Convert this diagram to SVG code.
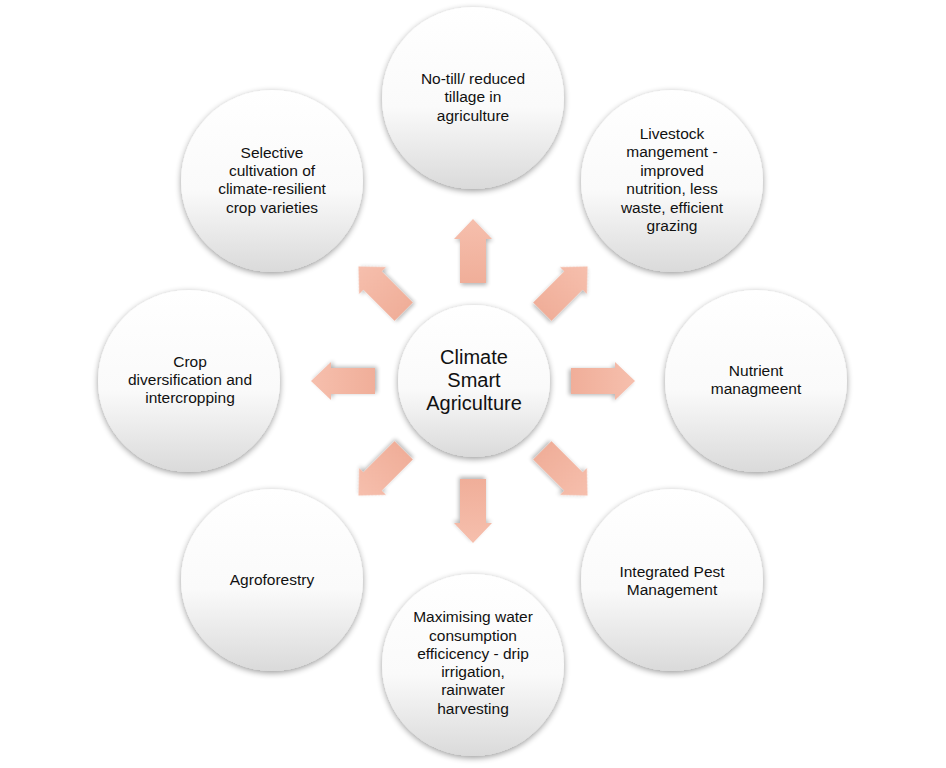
<svg xmlns="http://www.w3.org/2000/svg" width="946" height="768" viewBox="0 0 946 768">
<defs>
<linearGradient id="cg" x1="0" y1="0" x2="0" y2="1">
<stop offset="0" stop-color="#ffffff"/>
<stop offset="0.55" stop-color="#fafafa"/>
<stop offset="1" stop-color="#dadada"/>
</linearGradient>
<linearGradient id="ag" x1="0" y1="0" x2="0" y2="1">
<stop offset="0" stop-color="#f6bfad"/>
<stop offset="1" stop-color="#f0ae99"/>
</linearGradient>
<filter id="cs" x="-20%" y="-20%" width="140%" height="140%">
<feGaussianBlur in="SourceAlpha" stdDeviation="3"/>
<feOffset dx="0" dy="2" result="b"/>
<feComponentTransfer><feFuncA type="linear" slope="0.4"/></feComponentTransfer>
<feMerge><feMergeNode/><feMergeNode in="SourceGraphic"/></feMerge>
</filter>
<filter id="as" x="-40%" y="-40%" width="180%" height="180%">
<feGaussianBlur in="SourceAlpha" stdDeviation="2"/>
<feOffset dx="1" dy="2" result="b"/>
<feComponentTransfer><feFuncA type="linear" slope="0.3"/></feComponentTransfer>
<feMerge><feMergeNode/><feMergeNode in="SourceGraphic"/></feMerge>
</filter>
<polygon id="arr" points="-13,-98 -13,-142 -19,-142 0,-162 19,-142 13,-142 13,-98"/>
</defs>
<style>
.c{fill:url(#cg);filter:url(#cs);}
.t{font-family:"Liberation Sans",Arial,sans-serif;font-size:15.5px;fill:#111111;text-anchor:middle;}
.tc{font-family:"Liberation Sans",Arial,sans-serif;font-size:20px;fill:#111111;text-anchor:middle;}
.a{fill:url(#ag);filter:url(#as);}
</style>
<rect width="946" height="768" fill="#ffffff"/>
<g id="connectors" transform="translate(473,381)">
<use href="#arr" class="a" transform="rotate(0)"/>
<use href="#arr" class="a" transform="rotate(45)"/>
<use href="#arr" class="a" transform="rotate(90)"/>
<use href="#arr" class="a" transform="rotate(135)"/>
<use href="#arr" class="a" transform="rotate(180)"/>
<use href="#arr" class="a" transform="rotate(225)"/>
<use href="#arr" class="a" transform="rotate(270)"/>
<use href="#arr" class="a" transform="rotate(315)"/>
</g>
<g id="center">
<circle class="c" cx="474" cy="381" r="76"/>
<text class="tc" x="474" y="364">Climate</text>
<text class="tc" x="474" y="387">Smart</text>
<text class="tc" x="474" y="410">Agriculture</text>
</g>
<g id="notill">
<circle class="c" cx="473" cy="98" r="91"/>
<text class="t" x="473" y="84">No-till/ reduced</text>
<text class="t" x="473" y="102">tillage in</text>
<text class="t" x="473" y="121">agriculture</text>
</g>
<g id="livestock">
<circle class="c" cx="672" cy="181" r="91"/>
<text class="t" x="672" y="139">Livestock</text>
<text class="t" x="672" y="157">mangement -</text>
<text class="t" x="672" y="176">improved</text>
<text class="t" x="672" y="194">nutrition, less</text>
<text class="t" x="672" y="213">waste, efficient</text>
<text class="t" x="672" y="231">grazing</text>
</g>
<g id="nutrient">
<circle class="c" cx="756" cy="381" r="91"/>
<text class="t" x="756" y="376">Nutrient</text>
<text class="t" x="756" y="394">managmeent</text>
</g>
<g id="ipm">
<circle class="c" cx="672" cy="580" r="91"/>
<text class="t" x="672" y="577">Integrated Pest</text>
<text class="t" x="672" y="595">Management</text>
</g>
<g id="water">
<circle class="c" cx="473" cy="665" r="91"/>
<text class="t" x="473" y="622">Maximising water</text>
<text class="t" x="473" y="641">consumption</text>
<text class="t" x="473" y="659">efficicency - drip</text>
<text class="t" x="473" y="677">irrigation,</text>
<text class="t" x="473" y="695">rainwater</text>
<text class="t" x="473" y="714">harvesting</text>
</g>
<g id="agroforestry">
<circle class="c" cx="272" cy="580" r="91"/>
<text class="t" x="272" y="585">Agroforestry</text>
</g>
<g id="cropdiv">
<circle class="c" cx="189" cy="381" r="91"/>
<text class="t" x="190" y="367">Crop</text>
<text class="t" x="190" y="385">diversification and</text>
<text class="t" x="190" y="403">intercropping</text>
</g>
<g id="selective">
<circle class="c" cx="272" cy="181" r="91"/>
<text class="t" x="272" y="158">Selective</text>
<text class="t" x="272" y="176">cultivation of</text>
<text class="t" x="272" y="194">climate-resilient</text>
<text class="t" x="272" y="213">crop varieties</text>
</g>
</svg>
